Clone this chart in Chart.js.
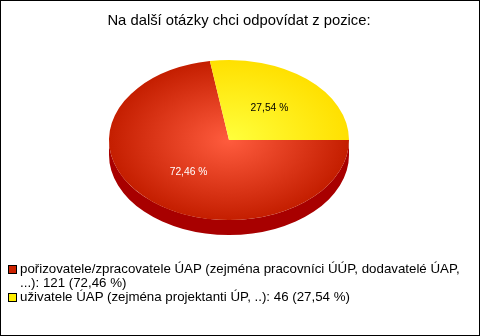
<!DOCTYPE html>
<html>
<head>
<meta charset="utf-8">
<script src="https://cdn.jsdelivr.net/npm/chart.js@4.4.1/dist/chart.umd.min.js"></script>
<style>
    body { margin: 0; background: #fff; }
    .wrap { position: relative; width: 480px; height: 336px; }
    #pie { position: absolute; left: 0; top: 0; }
    .frame { position: absolute; left: 0; top: 0; width: 480px; height: 336px; box-sizing: border-box; border: 1px solid #000; pointer-events: none; }
    .title { position: absolute; left: 0; top: 10px; width: 478px; text-align: center; font: 14.8px "Liberation Sans", Arial, sans-serif; line-height: 20px; color: #000; }
    .legend { position: absolute; left: 8px; top: 262px; width: 465px; font: 13.3px "Liberation Sans", Arial, sans-serif; line-height: 14px; color: #000; }
    .legend .item { display: flex; align-items: flex-start; }
    .legend .box { flex: none; width: 7px; height: 7px; border: 1px solid #000; margin: 3px 3px 0 0; }
</style>
</head>
<body>
<div class="wrap">
    <canvas id="pie" width="480" height="336"></canvas>
    <div class="title" id="title"></div>
    <div class="legend" id="legend"></div>
    <div class="frame"></div>
</div>

<script>
    // data
    const chartTitle = 'Na další otázky chci odpovídat z pozice:';
    const categories = [
        'pořizovatele/zpracovatele ÚAP (zejména pracovníci ÚÚP, dodavatelé ÚAP, ...)',
        'uživatele ÚAP (zejména projektanti ÚP, ..)'
    ];
    const counts = [121, 46];

    // colours
    const innerColors = ['#ff5c3e', '#ffff3c'];
    const outerColors = ['#c41e00', '#ffe000'];
    const sideColors = ['#a80000', '#c8b000'];
    const legendColors = ['#cc2200', '#ffee00'];
    const labelColors = ['#ffffff', '#000000'];

    const SQUASH = 80 / 120;   // ellipse height / width
    const DEPTH = 15;          // thickness of the 3d pie

    const total = counts.reduce((a, b) => a + b, 0);
    const pct = v => (v / total * 100).toFixed(2).replace('.', ',') + ' %';

    document.getElementById('title').textContent = chartTitle;

    // legend below the chart
    const legend = document.getElementById('legend');
    categories.forEach((name, i) => {
        const item = document.createElement('div');
        item.className = 'item';
        const box = document.createElement('span');
        box.className = 'box';
        box.style.background = legendColors[i];
        const text = document.createElement('span');
        text.textContent = name + ': ' + counts[i] + ' (' + pct(counts[i]) + ')';
        item.appendChild(box);
        item.appendChild(text);
        legend.appendChild(item);
    });

    // draws the side wall, squashes the pie into an ellipse and puts the labels on it
    const pie3d = {
        id: 'pie3d',
        beforeDatasetsDraw(chart) {
            const ctx = chart.ctx;
            const arcs = chart.getDatasetMeta(0).data;
            if (!arcs.length) return;
            const cx = arcs[0].x, cy = arcs[0].y, r = arcs[0].outerRadius;
            ctx.save();
            arcs.forEach((arc, i) => {
                [0, 2 * Math.PI].forEach(shift => {
                    const s = Math.max(arc.startAngle, shift);
                    const e = Math.min(arc.endAngle, shift + Math.PI);
                    if (e <= s) return;
                    ctx.beginPath();
                    ctx.ellipse(cx, cy, r, r * SQUASH, 0, s, e);
                    ctx.lineTo(cx + r * Math.cos(e), cy + r * SQUASH * Math.sin(e) + DEPTH);
                    ctx.ellipse(cx, cy + DEPTH, r, r * SQUASH, 0, e, s, true);
                    ctx.closePath();
                    ctx.fillStyle = sideColors[i];
                    ctx.fill();
                });
            });
            ctx.restore();
            ctx.save();
            ctx.translate(0, cy);
            ctx.scale(1, SQUASH);
            ctx.translate(0, -cy);
        },
        afterDatasetsDraw(chart) {
            const ctx = chart.ctx;
            ctx.restore();
            const arcs = chart.getDatasetMeta(0).data;
            ctx.save();
            ctx.font = '10.3px "Liberation Sans", Arial, sans-serif';
            ctx.textAlign = 'center';
            ctx.textBaseline = 'middle';
            arcs.forEach((arc, i) => {
                const mid = (arc.startAngle + arc.endAngle) / 2;
                const x = arc.x + Math.cos(mid) * arc.outerRadius * 0.52;
                const y = arc.y + Math.sin(mid) * arc.outerRadius * 0.52 * SQUASH;
                ctx.fillStyle = labelColors[i];
                ctx.fillText(pct(counts[i]), x, y);
            });
            ctx.restore();
        }
    };

    function sliceFill(context) {
        const chart = context.chart;
        const area = chart.chartArea;
        const i = context.dataIndex;
        if (!area) return outerColors[i];
        const cx = (area.left + area.right) / 2;
        const cy = (area.top + area.bottom) / 2;
        const g = chart.ctx.createRadialGradient(cx, cy, 0, cx, cy, 120);
        g.addColorStop(0, innerColors[i]);
        g.addColorStop(1, outerColors[i]);
        return g;
    }

    new Chart(document.getElementById('pie'), {
        type: 'pie',
        data: {
            labels: categories,
            datasets: [{
                data: counts,
                backgroundColor: sliceFill,
                borderWidth: 0,
                clip: false
            }]
        },
        options: {
            responsive: false,
            animation: false,
            events: [],
            rotation: 90,
            radius: 120,
            layout: { padding: { left: 109, right: 131, top: 40, bottom: 96 } },
            plugins: {
                legend: { display: false },
                tooltip: { enabled: false },
                title: { display: false }
            }
        },
        plugins: [pie3d]
    });
</script>
</body>
</html>
